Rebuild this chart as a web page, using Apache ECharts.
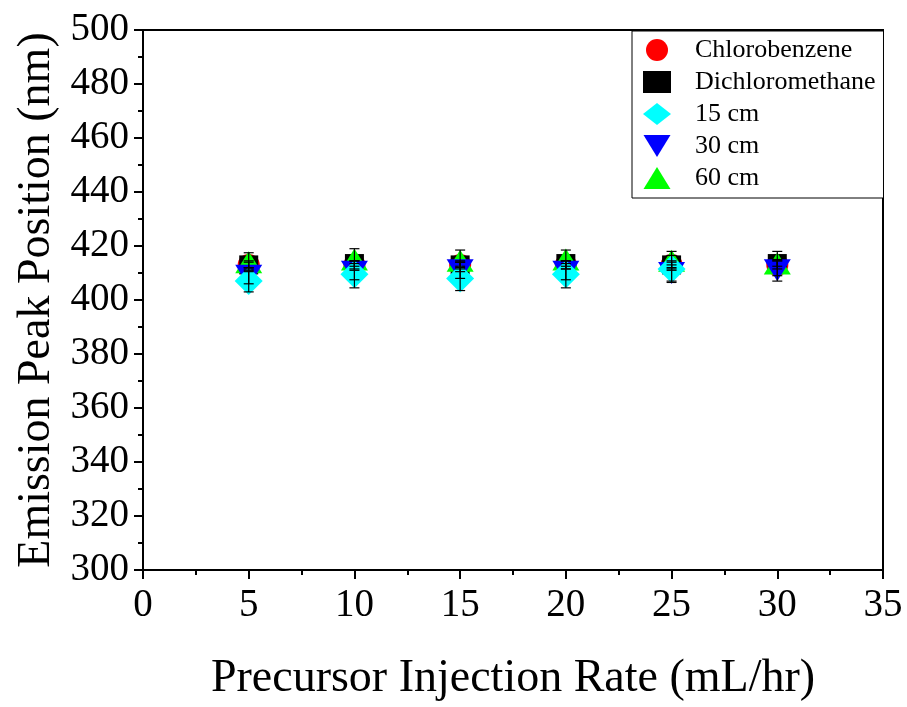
<!DOCTYPE html>
<html>
<head>
<meta charset="utf-8">
<script src="https://cdn.jsdelivr.net/npm/echarts@6/dist/echarts.min.js"></script>
<style>
  html, body { margin: 0; padding: 0; background: #fff; }
  #chart { width: 907px; height: 707px; }
</style>
</head>
<body>
<div id="chart"></div>
<script>
// Injection rates (mL/hr)
const rates = [5, 10, 15, 20, 25, 30];

// Emission peak positions (nm) and error half-widths
const chlorobenzene = [413, 413, 413, 413, 413, 413];
const chlorobenzeneErr = [1.5, 1.5, 1.5, 1.5, 1.5, 1.5];
const dichloromethane = [413, 413.5, 413, 413.5, 413, 413.5];
const dichloromethaneErr = [1, 1, 1, 1, 1, 1];
const cm15 = [407, 409.5, 408, 409.5, 411.5];
const cm15Err = [4, 5, 4.5, 5, 5];
const cm30 = [409, 410.5, 411, 410.5, 410, 411];
const cm30Err = [3, 3, 3, 3, 3, 4];
const cm60 = [414, 415, 414.5, 415, 414.5, 413.5];
const cm60Err = [3.5, 4, 4, 3.5, 3.5, 4.5];

const FONT = '"Liberation Serif", "Times New Roman", serif';
const DOWN_TRIANGLE = 'path://M0,0 L2,0 L1,1.63 Z';
const UP_TRIANGLE = 'path://M1,0 L2,1.63 L0,1.63 Z';

function pairs(vals) {
  return vals.map((v, i) => [rates[i], v]);
}

function errTriples(vals, errs) {
  return vals.map((v, i) => [rates[i], v - errs[i], v + errs[i]]);
}

// Vertical error bar with caps
function renderErr(params, api) {
  const x = api.value(0);
  const lo = api.coord([x, api.value(1)]);
  const hi = api.coord([x, api.value(2)]);
  const cap = 5;
  const style = { stroke: '#000', lineWidth: 1.2, fill: null };
  return {
    type: 'group',
    children: [
      { type: 'line', shape: { x1: lo[0], y1: lo[1], x2: hi[0], y2: hi[1] }, style },
      { type: 'line', shape: { x1: lo[0] - cap, y1: lo[1], x2: lo[0] + cap, y2: lo[1] }, style },
      { type: 'line', shape: { x1: hi[0] - cap, y1: hi[1], x2: hi[0] + cap, y2: hi[1] }, style }
    ]
  };
}

function errSeries(vals, errs) {
  return {
    type: 'custom',
    renderItem: renderErr,
    data: errTriples(vals, errs),
    z: 10,
    silent: true,
    encode: { x: 0, y: [1, 2] }
  };
}

const chart = echarts.init(document.getElementById('chart'), null, { renderer: 'canvas' });

chart.setOption({
  animation: false,
  backgroundColor: '#fff',
  textStyle: { fontFamily: FONT, color: '#000' },
  grid: {
    left: 143, right: 24, top: 30, bottom: 129,
    show: true, borderColor: '#000', borderWidth: 2, backgroundColor: 'transparent'
  },
  legend: {
    data: [
      { name: 'Chlorobenzene', icon: 'circle' },
      { name: 'Dichloromethane', icon: 'rect' },
      { name: '15 cm', icon: 'diamond' },
      { name: '30 cm', icon: DOWN_TRIANGLE },
      { name: '60 cm', icon: UP_TRIANGLE }
    ],
    orient: 'vertical',
    left: 632, top: 31,
    padding: [6, 8, 7, 11],
    itemWidth: 28, itemHeight: 22, itemGap: 6,
    borderColor: '#000', borderWidth: 1,
    backgroundColor: '#fff',
    textStyle: { fontFamily: FONT, fontSize: 26, color: '#000', padding: [0, 0, 0, 19] }
  },
  xAxis: {
    type: 'value', min: 0, max: 35, interval: 5,
    name: 'Precursor Injection Rate (mL/hr)',
    nameLocation: 'middle', nameGap: 86,
    nameTextStyle: { fontFamily: FONT, fontSize: 46, color: '#000' },
    axisLine: { lineStyle: { color: '#000', width: 2 } },
    axisTick: { show: true, inside: false, length: 9, lineStyle: { color: '#000', width: 2 } },
    minorTick: { show: true, splitNumber: 2, length: 5, lineStyle: { color: '#000', width: 2 } },
    splitLine: { show: false },
    axisLabel: { fontFamily: FONT, fontSize: 39, color: '#000', margin: 16 }
  },
  yAxis: {
    type: 'value', min: 300, max: 500, interval: 20,
    name: 'Emission Peak Position (nm)',
    nameLocation: 'middle', nameGap: 80,
    nameTextStyle: { fontFamily: FONT, fontSize: 46, color: '#000' },
    axisLine: { show: true, lineStyle: { color: '#000', width: 2 } },
    axisTick: { show: true, inside: false, length: 9, lineStyle: { color: '#000', width: 2 } },
    minorTick: { show: true, splitNumber: 2, length: 5, lineStyle: { color: '#000', width: 2 } },
    splitLine: { show: false },
    axisLabel: { fontFamily: FONT, fontSize: 39, color: '#000', margin: 14 }
  },
  series: [
    { name: 'Chlorobenzene', type: 'scatter', symbol: 'circle', symbolSize: 22,
      itemStyle: { color: '#ff0000', opacity: 1 }, data: pairs(chlorobenzene), z: 2 },
    { name: 'Dichloromethane', type: 'scatter', symbol: 'rect', symbolSize: 19,
      itemStyle: { color: '#000000', opacity: 1 }, data: pairs(dichloromethane), z: 3 },
    { name: '60 cm', type: 'scatter', symbol: UP_TRIANGLE, symbolSize: [27, 22],
      itemStyle: { color: '#00ff00', opacity: 1 }, data: pairs(cm60), z: 4 },
    { name: '30 cm', type: 'scatter', symbol: DOWN_TRIANGLE, symbolSize: [27, 22],
      itemStyle: { color: '#0000ff', opacity: 1 }, data: pairs(cm30), z: 5 },
    { name: '15 cm', type: 'scatter', symbol: 'diamond', symbolSize: [28, 28],
      itemStyle: { color: '#00ffff', opacity: 1 }, data: pairs(cm15), z: 6 },
    errSeries(chlorobenzene, chlorobenzeneErr),
    errSeries(dichloromethane, dichloromethaneErr),
    errSeries(cm60, cm60Err),
    errSeries(cm30, cm30Err),
    errSeries(cm15, cm15Err)
  ]
});
</script>
</body>
</html>
